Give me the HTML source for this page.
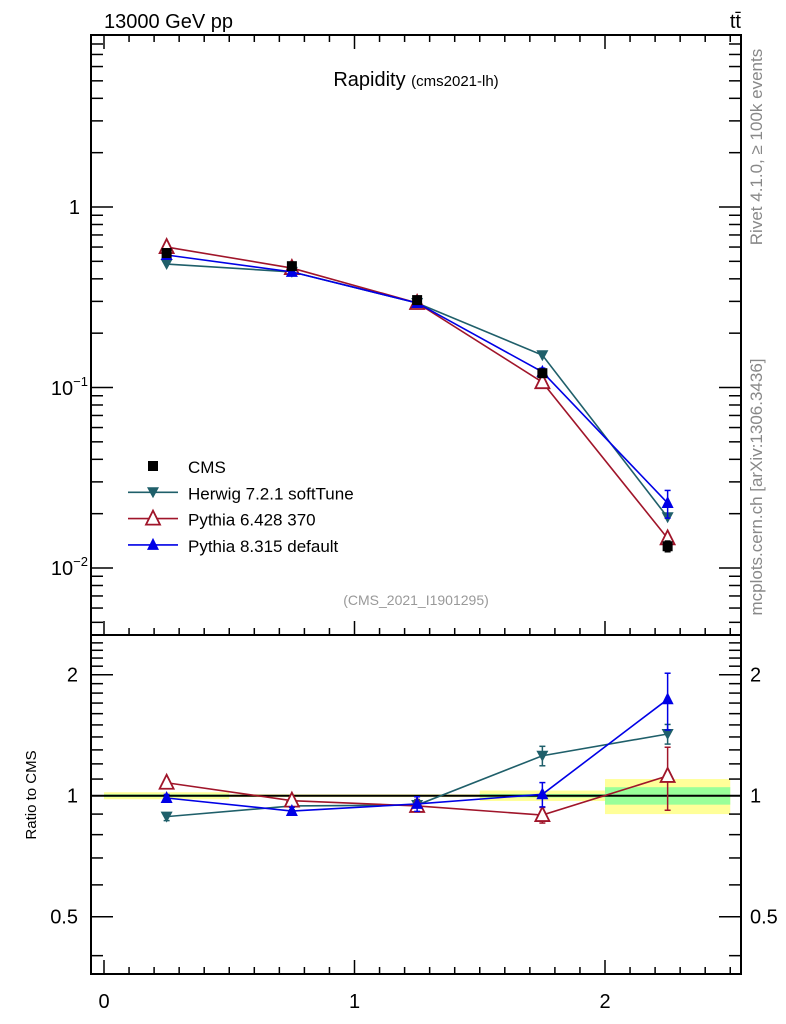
<!DOCTYPE html>
<html><head><meta charset="utf-8"><style>
body{margin:0;background:#fff;}
svg{display:block;font-family:"Liberation Sans",sans-serif;}
</style></head><body>
<svg id="c" width="786" height="1024" viewBox="0 0 786 1024" xmlns="http://www.w3.org/2000/svg"></svg>
<script>
const xCenters=[0.25,0.75,1.25,1.75,2.25];
const binEdges=[0,0.5,1,1.5,2,2.5];
const cmsVals=[0.556,0.47,0.305,0.12,0.0132];
const cmsErr=[0.01,0.008,0.006,0.004,0.0009];
const herwigVals=[0.483,0.437,0.294,0.151,0.0191];
const pythia6Vals=[0.60,0.459,0.294,0.107,0.0146];
const pythia8Vals=[0.542,0.437,0.294,0.122,0.0229];
const pythia8Err=[0.01,0.008,0.006,0.006,0.004];
const herwigRatio=[0.887,0.943,0.948,1.257,1.424];
const herwigRatioErr=[0.02,0.02,0.03,0.07,0.08];
const pythia6Ratio=[1.077,0.972,0.943,0.895,1.12];
const pythia6RatioErr=[0.01,0.01,0.02,0.04,0.2];
const pythia8Ratio=[0.987,0.916,0.954,1.008,1.737];
const pythia8RatioErr=[0.02,0.02,0.04,0.07,0.28];
const bandYellow=[0.02,0.008,0.008,0.03,0.10];
const bandGreen=[0.008,0.004,0.004,0.01,0.05];
const xTicks=[0,1,2];
const ratioTicks=[0.5,1,2];

const svg=document.getElementById('c');
const NS='http://www.w3.org/2000/svg';
const L=91,R=741,T=35,M=635,B=974;
const X=v=>104+v*250.5;
const Y=v=>207-Math.log10(v)*180.5;
const YR=v=>795.7-Math.log2(v)*121;
function mk(tag,at,parent){const e=document.createElementNS(NS,tag);for(const k in at)e.setAttribute(k,at[k]);(parent||svg).appendChild(e);return e;}
function line(x1,y1,x2,y2,st,w){return mk('line',{x1,y1,x2,y2,stroke:st||'#000','stroke-width':w||2});}
function text(x,y,s,size,anchor,fill,name){const t=mk('text',{x,y,'font-size':size,'text-anchor':anchor||'start',fill:fill||'#000'});t.textContent=s;return t;}

for(let i=0;i<5;i++){
  const r1=mk('rect',{x:X(binEdges[i]),y:YR(1+bandYellow[i]),width:X(binEdges[i+1])-X(binEdges[i]),height:YR(1-bandYellow[i])-YR(1+bandYellow[i]),fill:'#ffff99'});
  
  
  const r2=mk('rect',{x:X(binEdges[i]),y:YR(1+bandGreen[i]),width:X(binEdges[i+1])-X(binEdges[i]),height:YR(1-bandGreen[i])-YR(1+bandGreen[i]),fill:'#99ff99'});
  
  
}
line(L,YR(1),R,YR(1),'#000',2);

const f1=mk('rect',{x:L,y:T,width:R-L,height:M-T,fill:'none',stroke:'#000','stroke-width':2});

const f2=mk('rect',{x:L,y:M,width:R-L,height:B-M,fill:'none',stroke:'#000','stroke-width':2});


for(let k=0;k<=25;k++){const v=k/10;const x=X(v);const maj=k%10==0;const l=maj?14:7;
  line(x,T,x,T+l,'#000',1.5);line(x,M,x,M-l,'#000',1.5);line(x,B,x,B-l,'#000',1.5);}
xTicks.forEach(v=>text(X(v),1008,String(v),20,'middle','#000','x-tick-label'));

for(let d=-3;d<=0;d++){for(let m=1;m<=9;m++){const v=m*Math.pow(10,d);const y=Y(v);if(y<T||y>M)continue;const l=m==1?22:12;line(L,y,L+l,y,'#000',1.5);line(R,y,R-l,y,'#000',1.5);}}
text(80,214,'1',20,'end','#000','y-tick-label-1');
let t1=text(88,395,'10',20,'end','#000','y-tick-label-0.1');
const t1s=mk('tspan',{dy:-9,'font-size':13},t1);t1s.textContent='−1';
let t2=text(88,575,'10',20,'end','#000','y-tick-label-0.01');
const t2s=mk('tspan',{dy:-9,'font-size':13},t2);t2s.textContent='−2';
for(let k=4;k<=24;k++){const v=k/10;const y=YR(v);if(y<M||y>B)continue;const maj=(k==5||k==10||k==20);const l=maj?22:12;line(L,y,L+l,y,'#000',1.5);line(R,y,R-l,y,'#000',1.5);}
ratioTicks.forEach(v=>{text(78,YR(v)+7,String(v),20,'end','#000','ratio-tick-label-left');text(750,YR(v)+7,String(v),20,'start','#000','ratio-tick-label-right');});

function marker(type,x,y,col,name){let e;
  if(type=='sq')e=mk('rect',{x:x-5,y:y-5,width:10,height:10,fill:col});
  else if(type=='down')e=mk('polygon',{points:`${x-6},${y-5} ${x+6},${y-5} ${x},${y+6}`,fill:col});
  else if(type=='up')e=mk('polygon',{points:`${x-6},${y+5} ${x+6},${y+5} ${x},${y-7}`,fill:col});
  else e=mk('polygon',{points:`${x-7},${y+6} ${x+7},${y+6} ${x},${y-8}`,fill:'#fff',stroke:col,'stroke-width':1.8});
  }
function err(x,y1,y2,col){line(x,y1,x,y2,col,1.5);line(x-3,y1,x+3,y1,col,1.5);line(x-3,y2,x+3,y2,col,1.5);}
function series(vals,errs,yf,col,type,name,noLine){
  if(!noLine){const p=mk('polyline',{points:vals.map((v,i)=>X(xCenters[i])+','+yf(v)).join(' '),fill:'none',stroke:col,'stroke-width':1.6});
  }
  vals.forEach((v,i)=>{if(errs)err(X(xCenters[i]),yf(v+errs[i]),yf(Math.max(v-errs[i],1e-4)),col);marker(type,X(xCenters[i]),yf(v),col,name+'-point');});
}
const cH='#1f5f6a',c6='#a0152a',c8='#0000e6';
series(herwigVals,null,Y,cH,'down','herwig');
series(pythia6Vals,null,Y,c6,'open','pythia6');
series(pythia8Vals,pythia8Err,Y,c8,'up','pythia8');
series(cmsVals,cmsErr,Y,'#000','sq','cms',true);
series(herwigRatio,herwigRatioErr,YR,cH,'down','herwig-ratio');
series(pythia6Ratio,pythia6RatioErr,YR,c6,'open','pythia6-ratio');
series(pythia8Ratio,pythia8RatioErr,YR,c8,'up','pythia8-ratio');

const leg=[['CMS','#000','sq',false],['Herwig 7.2.1 softTune',cH,'down',true],['Pythia 6.428 370',c6,'open',true],['Pythia 8.315 default',c8,'up',true]];
leg.forEach((e,i)=>{const y=466+i*26.3;if(e[3])line(128,y,178,y,e[1],1.6);marker(e[2],153,y,e[1],'legend-marker');text(188,y+7,e[0],17,'start','#000','legend-entry');});

text(104,28,'13000 GeV pp',20,'start','#000','collision-label');
text(741,28,'tt̄',20,'end','#000','process-label');
const tt=text(416,86,'Rapidity ',20,'middle','#000','plot-title');
const ts=mk('tspan',{'font-size':15},tt);ts.textContent='(cms2021-lh)';
text(416,605,'(CMS_2021_I1901295)',14,'middle','#999','analysis-id');
let g=text(0,0,'Ratio to CMS',15,'middle','#000','ratio-y-axis-title');g.setAttribute('transform','translate(36,795) rotate(-90)');
g=text(0,0,'Rivet 4.1.0, ≥ 100k events',17,'middle','#888','rivet-version-label');g.setAttribute('transform','translate(762,147) rotate(-90)');
g=text(0,0,'mcplots.cern.ch [arXiv:1306.3436]',17,'middle','#888','mcplots-label');g.setAttribute('transform','translate(762,487) rotate(-90)');
</script>
</body></html>
